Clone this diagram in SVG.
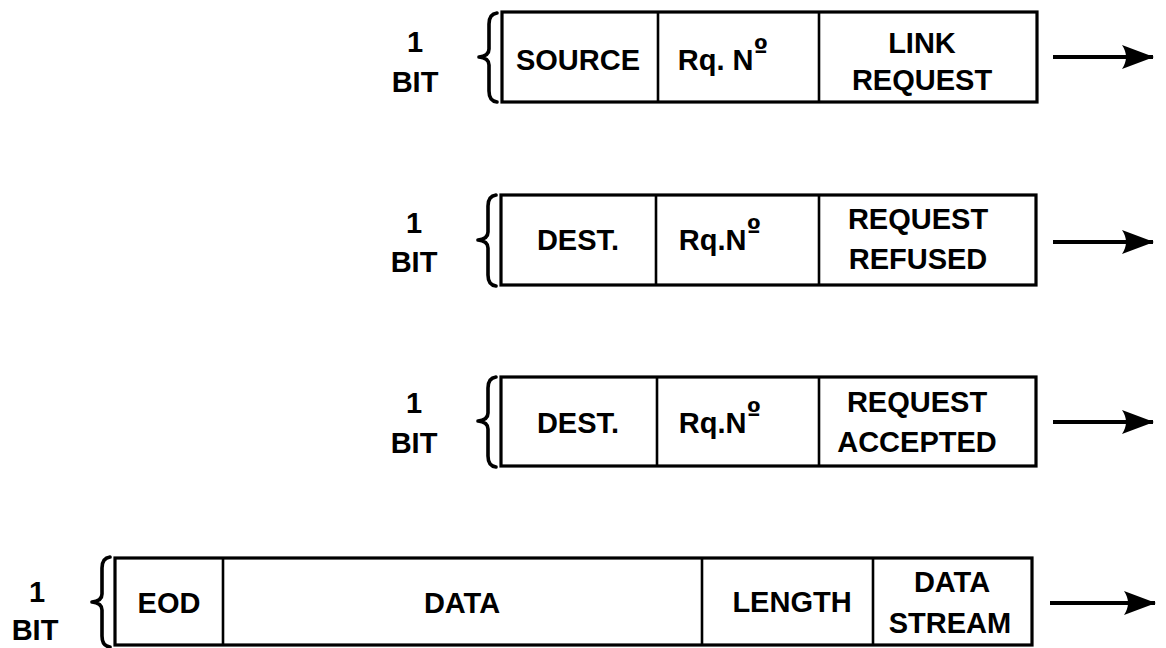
<svg xmlns="http://www.w3.org/2000/svg" width="1166" height="648" viewBox="0 0 1166 648">
<style>
.box{fill:none;stroke:#000;stroke-width:3.2}
.div{stroke:#000;stroke-width:2.6}
.brace{fill:none;stroke:#000;stroke-width:3.6;stroke-linecap:round;stroke-linejoin:round}
.conn{stroke:#000;stroke-width:4;fill:none}
text{font-family:"Liberation Sans",Arial,sans-serif;font-size:29px;font-weight:bold;fill:#000;text-anchor:middle}
.sup{font-family:"DejaVu Sans",sans-serif;font-size:26px}
</style>
<defs>
<marker id="ah" markerUnits="userSpaceOnUse" viewBox="-33 -14 35 28" refX="0" refY="0" markerWidth="35" markerHeight="28" orient="auto">
<path d="M1,0 L-31,-12 Q-23,0 -31,12 Z" fill="#000"/>
</marker>
</defs>
<rect width="1166" height="648" fill="#fff"/>

<g id="frame1">
<text x="415" y="52">1</text>
<text x="415" y="92">BIT</text>
<path class="brace" d="M497,13 Q489,14 489,24 L489,49 Q489,56 479,57 Q489,58 489,65 L489,91 Q489,101 497,102"/>
<rect class="box" x="502" y="12" width="535" height="90"/>
<line class="div" x1="658" y1="12" x2="658" y2="102"/>
<line class="div" x1="819" y1="12" x2="819" y2="102"/>
<text x="723" y="70">Rq. N<tspan class="sup" dy="-12">º</tspan></text>
<text x="578" y="70">SOURCE</text>
<text x="922" y="53">LINK</text>
<text x="922" y="90">REQUEST</text>
</g>

<g id="frame2">
<text x="414" y="233">1</text>
<text x="414" y="272">BIT</text>
<path class="brace" d="M496,195 Q488,196 488,206 L488,232 Q488,239 478,240 Q488,241 488,248 L488,275 Q488,285 496,286"/>
<rect class="box" x="501" y="195" width="535" height="90"/>
<line class="div" x1="656" y1="195" x2="656" y2="285"/>
<line class="div" x1="819" y1="195" x2="819" y2="285"/>
<text x="578" y="250">DEST.</text>
<text x="720" y="250">Rq.N<tspan class="sup" dy="-12">º</tspan></text>
<text x="918" y="229">REQUEST</text>
<text x="918" y="269">REFUSED</text>
</g>

<g id="frame3">
<text x="414" y="413">1</text>
<text x="414" y="453">BIT</text>
<path class="brace" d="M496,377 Q488,378 488,388 L488,413 Q488,420 478,421 Q488,422 488,429 L488,456 Q488,466 496,467"/>
<rect class="box" x="501" y="377" width="535" height="89"/>
<line class="div" x1="657" y1="377" x2="657" y2="466"/>
<line class="div" x1="819" y1="377" x2="819" y2="466"/>
<text x="578" y="433">DEST.</text>
<text x="720" y="433">Rq.N<tspan class="sup" dy="-12">º</tspan></text>
<text x="917" y="412">REQUEST</text>
<text x="917" y="452">ACCEPTED</text>
</g>

<g id="frame4">
<text x="37" y="602">1</text>
<text x="35" y="640">BIT</text>
<path class="brace" d="M110,557 Q102,558 102,568 L102,594 Q102,601 92,602 Q102,603 102,610 L102,636 Q102,646 110,647"/>
<rect class="box" x="115" y="558" width="917" height="87"/>
<line class="div" x1="223" y1="558" x2="223" y2="645"/>
<line class="div" x1="702" y1="558" x2="702" y2="645"/>
<line class="div" x1="873" y1="558" x2="873" y2="645"/>
<text x="169" y="613">EOD</text>
<text x="462" y="613">DATA</text>
<text x="792" y="612">LENGTH</text>
<text x="952" y="592">DATA</text>
<text x="950" y="633">STREAM</text>
</g>

<g id="connectors">
<line class="conn" x1="1053" y1="57" x2="1153" y2="57" marker-end="url(#ah)"/>
<line class="conn" x1="1053" y1="242" x2="1153" y2="242" marker-end="url(#ah)"/>
<line class="conn" x1="1053" y1="422" x2="1153" y2="422" marker-end="url(#ah)"/>
<line class="conn" x1="1050" y1="603" x2="1155" y2="603" marker-end="url(#ah)"/>
</g>
</svg>
